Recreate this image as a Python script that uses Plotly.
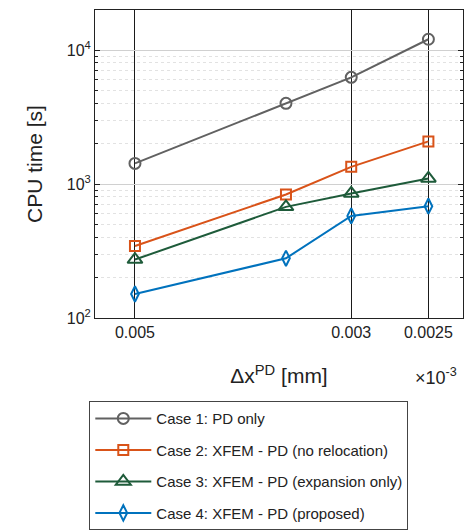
import numpy as np
import plotly.graph_objects as go

dx = [0.005, 0.0035, 0.003, 0.0025]
case1 = [1424, 4000, 6250, 12030]
case2 = [345, 835, 1343, 2080]
case3 = [273, 675, 850, 1100]
case4 = [151, 279, 578, 683]

names = ["Case 1: PD only",
         "Case 2: XFEM - PD (no relocation)",
         "Case 3: XFEM - PD (expansion only)",
         "Case 4: XFEM - PD (proposed)"]
colors = ["#616161", "#D95319", "#1E5B3A", "#0072BD"]
symbols = ["circle-open", "square-open", "triangle-up-open", "diamond-tall-open"]
sizes = [11, 10, 13, 11]

xtick_vals = [0.005, 0.003, 0.0025]
xtick_text = ["0.005", "0.003", "0.0025"]
ytick_vals = [100, 1000, 10000]
ytick_text = ["10<sup>2</sup>", "10<sup>3</sup>", "10<sup>4</sup>"]
yminor_vals = [m * d for d in [100, 1000, 10000] for m in range(2, 10)]

fig = go.Figure()
for i, ys in enumerate([case1, case2, case3, case4]):
    fig.add_trace(go.Scatter(
        x=dx, y=ys, mode="lines+markers", name=names[i],
        legendgroup=f"g{i}",
        line=dict(color=colors[i], width=2),
        marker=dict(symbol=symbols[i], size=sizes[i], color=colors[i],
                    line=dict(width=2, color=colors[i])),
    ))

font_family = "Liberation Sans, Arial, sans-serif"
fig.update_layout(
    width=465, height=530,
    margin=dict(l=95, r=2, t=10, b=212, autoexpand=False),
    paper_bgcolor="white", plot_bgcolor="white",
    font=dict(family=font_family, size=16, color="#222222"),
    showlegend=True,
    legend=dict(
        x=-0.0155, y=-0.27, xanchor="left", yanchor="top",
        bordercolor="#444444", borderwidth=1, bgcolor="white",
        font=dict(size=15, color="#222222"),
        tracegroupgap=9, itemwidth=56,
        entrywidth=265, entrywidthmode="pixels",
    ),
    xaxis=dict(
        type="log",
        range=[-2.26003, -2.63754],
        tickvals=xtick_vals, ticktext=xtick_text,
        showgrid=True, gridcolor="#1a1a1a", gridwidth=1,
        showline=True, linecolor="#222222", linewidth=1, mirror=True,
        ticks="", zeroline=False,
        tickfont=dict(size=16, color="#222222"),
        title=dict(text="Δx<sup>PD</sup> [mm]", font=dict(size=21), standoff=28),
    ),
    yaxis=dict(
        type="log",
        range=[2, 4.2985],
        tickvals=ytick_vals, ticktext=ytick_text,
        showgrid=True, gridcolor="#d0d0d0", gridwidth=1,
        showline=True, linecolor="#222222", linewidth=1, mirror="allticks",
        ticks="inside", ticklen=5, tickcolor="#222222",
        tickfont=dict(size=16, color="#222222"),
        minor=dict(tickvals=yminor_vals, ticks="inside", ticklen=3,
                   tickcolor="#222222", showgrid=True, gridcolor="#e2e2e2",
                   griddash="dot", gridwidth=1),
        title=dict(text="CPU time [s]", font=dict(size=21), standoff=18),
    ),
)

fig.add_annotation(
    text="×10<sup>-3</sup>", xref="paper", yref="paper",
    x=0.99, y=-0.19, xanchor="right", yanchor="middle",
    showarrow=False, font=dict(size=18, color="#222222"),
)

fig.write_html("out.html")
